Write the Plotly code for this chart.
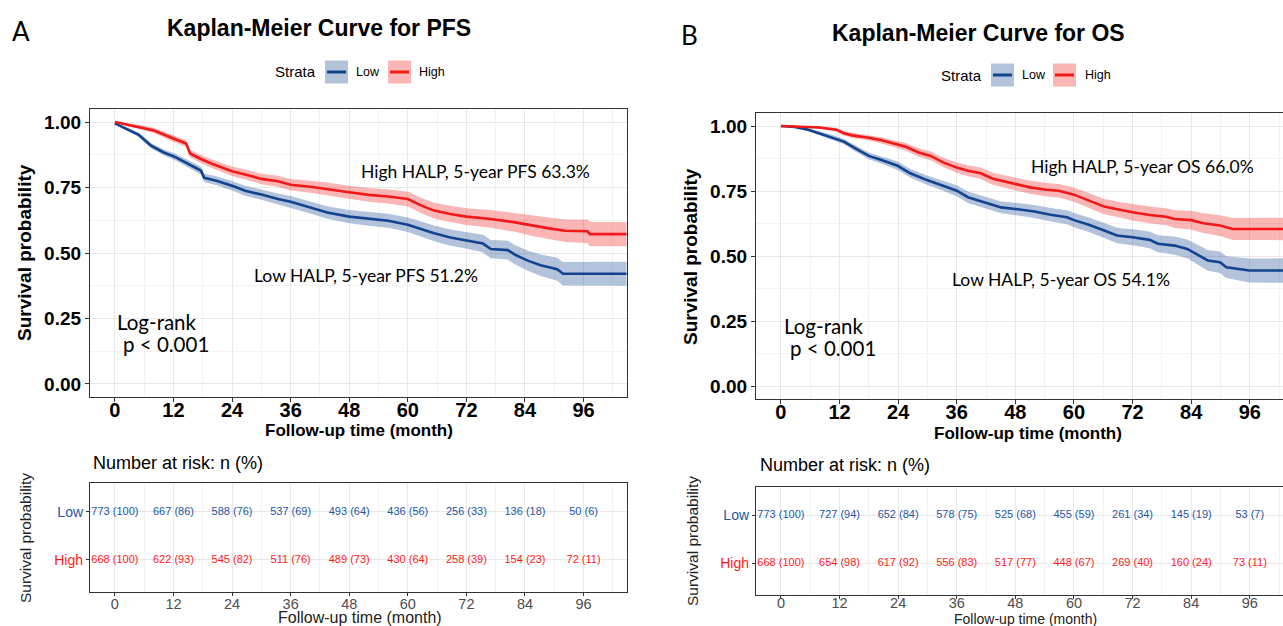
import plotly.graph_objects as go

W, H = 1283, 626

# ---------------- DATA ----------------
# PFS, High HALP
pfs_high_t = [0, 3, 5, 8, 11.6, 14.6, 15.4, 17.5, 20, 24, 26.7, 30, 33.4, 36, 40, 43.5, 48, 52, 56, 60,
              62.8, 65.4, 68.7, 72, 77, 82, 85.5, 88.9, 92.2, 96.8, 97.3, 104.8]
pfs_high_s = [1.000, 0.988, 0.982, 0.968, 0.940, 0.918, 0.880, 0.860, 0.840, 0.812, 0.800, 0.783, 0.774,
              0.761, 0.753, 0.745, 0.732, 0.722, 0.716, 0.706, 0.681, 0.662, 0.649, 0.639, 0.630, 0.617,
              0.604, 0.594, 0.585, 0.583, 0.572, 0.572]
pfs_high_lo = [1.000, 0.982, 0.974, 0.958, 0.928, 0.905, 0.866, 0.845, 0.824, 0.794, 0.781, 0.763, 0.753,
               0.739, 0.730, 0.721, 0.707, 0.696, 0.689, 0.678, 0.652, 0.632, 0.618, 0.607, 0.596, 0.581,
               0.565, 0.553, 0.542, 0.538, 0.526, 0.526]
pfs_high_hi = [1.000, 0.994, 0.990, 0.978, 0.952, 0.931, 0.894, 0.875, 0.856, 0.830, 0.819, 0.803, 0.795,
               0.783, 0.776, 0.769, 0.757, 0.748, 0.743, 0.734, 0.710, 0.692, 0.680, 0.671, 0.664, 0.653,
               0.643, 0.635, 0.628, 0.628, 0.618, 0.618]

# PFS, Low HALP
pfs_low_t = [0, 2.4, 4.9, 7.4, 9.9, 12.4, 15, 17.6, 18.3, 20.8, 24, 26.7, 30, 33.4, 36, 40, 43.5, 48, 52,
             56, 60, 62.8, 65.4, 68.7, 72, 75.4, 77, 80.5, 82, 84.7, 87.2, 90.6, 91.8, 104.8]
pfs_low_s = [0.995, 0.974, 0.951, 0.910, 0.885, 0.866, 0.840, 0.815, 0.787, 0.776, 0.757, 0.738, 0.723,
             0.706, 0.696, 0.674, 0.655, 0.639, 0.630, 0.623, 0.608, 0.591, 0.575, 0.559, 0.549, 0.536,
             0.515, 0.511, 0.493, 0.470, 0.453, 0.438, 0.421, 0.421]
pfs_low_lo = [0.992, 0.968, 0.943, 0.900, 0.874, 0.853, 0.826, 0.800, 0.771, 0.759, 0.739, 0.719, 0.703,
              0.685, 0.674, 0.651, 0.631, 0.614, 0.604, 0.596, 0.580, 0.562, 0.545, 0.528, 0.517, 0.502,
              0.480, 0.475, 0.456, 0.431, 0.412, 0.394, 0.376, 0.375]
pfs_low_hi = [0.998, 0.980, 0.959, 0.920, 0.896, 0.879, 0.854, 0.830, 0.803, 0.793, 0.775, 0.757, 0.743,
              0.727, 0.718, 0.697, 0.679, 0.664, 0.656, 0.650, 0.636, 0.620, 0.605, 0.590, 0.581, 0.570,
              0.550, 0.547, 0.530, 0.509, 0.494, 0.482, 0.466, 0.467]

# OS, High HALP
os_high_t = [0, 4.5, 7.9, 11.3, 12.9, 14.6, 18, 20.6, 23.1, 25.6, 28.2, 30.7, 33.2, 36, 38.3, 40.9, 43.4,
             48, 51, 54.4, 56.9, 60, 62.9, 66.2, 69.6, 72, 75.5, 78.9, 80.6, 84, 86.5, 89.9, 92.5, 102.8]
os_high_s = [1.000, 0.997, 0.994, 0.986, 0.972, 0.964, 0.955, 0.945, 0.932, 0.920, 0.898, 0.885, 0.860,
             0.840, 0.828, 0.818, 0.797, 0.777, 0.764, 0.755, 0.751, 0.736, 0.715, 0.690, 0.677, 0.668,
             0.658, 0.651, 0.642, 0.638, 0.626, 0.617, 0.604, 0.604]
os_high_lo = [1.000, 0.994, 0.989, 0.979, 0.963, 0.954, 0.944, 0.933, 0.919, 0.905, 0.882, 0.868, 0.842,
              0.820, 0.807, 0.796, 0.774, 0.753, 0.739, 0.729, 0.725, 0.709, 0.687, 0.661, 0.647, 0.637,
              0.626, 0.618, 0.608, 0.602, 0.588, 0.577, 0.562, 0.561]
os_high_hi = [1.000, 1.000, 0.999, 0.993, 0.981, 0.974, 0.966, 0.957, 0.945, 0.935, 0.914, 0.902, 0.878,
              0.860, 0.849, 0.840, 0.820, 0.801, 0.789, 0.781, 0.777, 0.763, 0.743, 0.719, 0.707, 0.699,
              0.690, 0.684, 0.676, 0.674, 0.664, 0.657, 0.646, 0.647]

# OS, Low HALP
os_low_t = [0, 2.8, 5.3, 7.9, 10.4, 12.9, 15.5, 18, 20.6, 23.9, 26.5, 29.9, 33.2, 36, 38.3, 41.7, 45.1, 48,
            51.9, 55.2, 58.6, 60, 62.9, 66.2, 68.8, 72, 75.5, 77.2, 80.6, 83.2, 85.7, 87.4, 89.9, 91.2,
            95.9, 102.8]
os_low_s = [1.000, 0.996, 0.987, 0.971, 0.958, 0.940, 0.911, 0.885, 0.869, 0.847, 0.818, 0.792, 0.770,
            0.751, 0.726, 0.706, 0.687, 0.681, 0.671, 0.659, 0.649, 0.638, 0.621, 0.598, 0.579, 0.572,
            0.562, 0.547, 0.540, 0.527, 0.502, 0.483, 0.476, 0.457, 0.444, 0.444]
os_low_lo = [1.000, 0.993, 0.982, 0.964, 0.949, 0.930, 0.899, 0.872, 0.855, 0.831, 0.801, 0.774, 0.751,
             0.730, 0.704, 0.684, 0.664, 0.657, 0.646, 0.633, 0.622, 0.611, 0.593, 0.569, 0.549, 0.541,
             0.530, 0.514, 0.505, 0.491, 0.464, 0.443, 0.435, 0.415, 0.398, 0.397]
os_low_hi = [1.000, 0.999, 0.992, 0.978, 0.967, 0.950, 0.923, 0.898, 0.883, 0.863, 0.835, 0.810, 0.789,
             0.772, 0.748, 0.728, 0.710, 0.705, 0.696, 0.685, 0.676, 0.665, 0.649, 0.627, 0.609, 0.603,
             0.594, 0.580, 0.575, 0.563, 0.540, 0.523, 0.517, 0.499, 0.490, 0.491]

# Number at risk
risk_times = [0, 12, 24, 36, 48, 60, 72, 84, 96]
pfs_low_n = [773, 667, 588, 537, 493, 436, 256, 136, 50]
pfs_low_pct = [100, 86, 76, 69, 64, 56, 33, 18, 6]
pfs_high_n = [668, 622, 545, 511, 489, 430, 258, 154, 72]
pfs_high_pct = [100, 93, 82, 76, 73, 64, 39, 23, 11]
os_low_n = [773, 727, 652, 578, 525, 455, 261, 145, 53]
os_low_pct = [100, 94, 84, 75, 68, 59, 34, 19, 7]
os_high_n = [668, 654, 617, 556, 517, 448, 269, 160, 73]
os_high_pct = [100, 98, 92, 83, 77, 67, 40, 24, 11]

strata = ["Low", "High"]
x_ticks = [0, 12, 24, 36, 48, 60, 72, 84, 96]
y_ticks = [0, 0.25, 0.5, 0.75, 1.0]

# ---------------- STYLE ----------------
BLUE = "#11438f"
RED = "#f01818"
BLUE_FILL = "rgba(17,67,143,0.32)"
RED_FILL = "rgba(240,24,24,0.32)"
BLUE_TXT = "#2456a4"
RED_TXT = "#ff1a1a"
GRID = "#e8e8e8"
MINOR = "#f3f3f3"
AX = "#333333"
SANS = "Liberation Sans, Arial, sans-serif"
HUMAN = "Lato, Open Sans, sans-serif"


def px(x):
    return x / W


def py(y):
    return 1 - y / H


fig = go.Figure()


def add_km(t, lo, hi, fill, xa, ya):
    fig.add_trace(go.Scatter(x=t, y=lo, mode="lines", line=dict(width=0, color=fill),
                             xaxis=xa, yaxis=ya, showlegend=False, hoverinfo="skip"))
    fig.add_trace(go.Scatter(x=t, y=hi, mode="lines", line=dict(width=0, color=fill), fill="tonexty",
                             fillcolor=fill, xaxis=xa, yaxis=ya, showlegend=False, hoverinfo="skip"))


add_km(pfs_low_t, pfs_low_lo, pfs_low_hi, BLUE_FILL, "x", "y")
add_km(pfs_high_t, pfs_high_lo, pfs_high_hi, RED_FILL, "x", "y")
add_km(os_low_t, os_low_lo, os_low_hi, BLUE_FILL, "x2", "y2")
add_km(os_high_t, os_high_lo, os_high_hi, RED_FILL, "x2", "y2")

for t, s, c, xa, ya in [(pfs_low_t, pfs_low_s, BLUE, "x", "y"), (pfs_high_t, pfs_high_s, RED, "x", "y"),
                        (os_low_t, os_low_s, BLUE, "x2", "y2"), (os_high_t, os_high_s, RED, "x2", "y2")]:
    fig.add_trace(go.Scatter(x=t, y=s, mode="lines", line=dict(color=c, width=2.6),
                             xaxis=xa, yaxis=ya, showlegend=False))

row_pos = {"Low": 2, "High": 1}


def add_risk(n, pct, row, color, xa, ya):
    fig.add_trace(go.Scatter(x=risk_times, y=[row_pos[row]] * len(risk_times), mode="text",
                             text=[f"{a} ({b})" for a, b in zip(n, pct)],
                             textfont=dict(family=SANS, size=11, color=color),
                             xaxis=xa, yaxis=ya, showlegend=False))


add_risk(pfs_low_n, pfs_low_pct, "Low", BLUE_TXT, "x3", "y3")
add_risk(pfs_high_n, pfs_high_pct, "High", RED_TXT, "x3", "y3")
add_risk(os_low_n, os_low_pct, "Low", BLUE_TXT, "x4", "y4")
add_risk(os_high_n, os_high_pct, "High", RED_TXT, "x4", "y4")


def main_x(domain, rng, anchor, mirror=True):
    return dict(domain=domain, range=rng, anchor=anchor, tickvals=x_ticks, ticks="outside", ticklen=4,
                tickcolor=AX, tickfont=dict(family=SANS, size=20, color="black", weight="bold"),
                ticklabelstandoff=-9,
                showgrid=True, gridcolor=GRID, gridwidth=1, zeroline=False,
                minor=dict(dtick=6, tick0=0, showgrid=True, gridcolor=MINOR, gridwidth=1),
                showline=True, linecolor=AX, linewidth=1.3, mirror=mirror)


def main_y(domain, anchor, mirror=True):
    return dict(domain=domain, range=[-0.05, 1.05], anchor=anchor, tickvals=y_ticks, tickformat=".2f",
                ticks="outside", ticklen=4, tickcolor=AX,
                tickfont=dict(family=SANS, size=19, color="black", weight="bold"),
                showgrid=True, gridcolor=GRID, gridwidth=1, zeroline=False,
                minor=dict(dtick=0.125, tick0=0, showgrid=True, gridcolor=MINOR, gridwidth=1),
                showline=True, linecolor=AX, linewidth=1.3, mirror=mirror)


def tab_x(domain, rng, anchor, mirror=True, standoff=-5):
    return dict(domain=domain, range=rng, anchor=anchor, tickvals=x_ticks, ticks="outside", ticklen=3,
                tickcolor=AX, tickfont=dict(family=SANS, size=14.5, color="#4d4d4d"),
                ticklabelstandoff=standoff,
                showgrid=True, gridcolor=GRID, zeroline=False,
                minor=dict(dtick=6, tick0=0, showgrid=True, gridcolor=MINOR),
                showline=True, linecolor=AX, linewidth=1.3, mirror=mirror)


def tab_y(domain, anchor, mirror=True):
    return dict(domain=domain, range=[0.333, 2.6], anchor=anchor, tickvals=[row_pos[s] for s in strata],
                ticktext=[f"<span style='color:{BLUE_TXT}'>Low</span>",
                          f"<span style='color:{RED_TXT}'>High</span>"],
                ticks="outside", ticklen=3, tickcolor=AX, tickfont=dict(family=SANS, size=14),
                showgrid=True, gridcolor=GRID, zeroline=False,
                showline=True, linecolor=AX, linewidth=1.3, mirror=mirror)


fig.update_layout(
    width=W, height=H, margin=dict(l=0, r=0, t=0, b=0),
    paper_bgcolor="white", plot_bgcolor="white", showlegend=False,
    xaxis=main_x([px(90), px(627)], [-5.1, 104.9], "y"),
    yaxis=main_y([py(397), py(109)], "x"),
    xaxis2=main_x([px(756), 1.0], [-5.1, 102.8], "y2"),
    yaxis2=main_y([py(399), py(113)], "x2", mirror=False),
    xaxis3=tab_x([px(90), px(627)], [-5.1, 104.9], "y3"),
    yaxis3=tab_y([py(592), py(483)], "x3"),
    xaxis4=tab_x([px(756), 1.0], [-5.1, 102.8], "y4", standoff=-9),
    yaxis4=tab_y([py(595), py(487)], "x4", mirror=False),
)

ann = []


def A(text, x, y, size, family=SANS, color="black", weight="normal", xanchor="center", angle=0):
    ann.append(dict(text=text, x=px(x), y=py(y), xref="paper", yref="paper", showarrow=False,
                    xanchor=xanchor, yanchor="middle", textangle=angle,
                    font=dict(family=family, size=size, color=color, weight=weight)))


# panel letters and titles
A("A", 21, 31, 26, family=HUMAN)
A("B", 690, 35, 26, family=HUMAN)
A("Kaplan-Meier Curve for PFS", 319, 28, 23, weight="bold")
A("Kaplan-Meier Curve for OS", 978, 33, 23, weight="bold")

# axis titles main
A("Survival probability", 25, 253, 19, weight="bold", angle=-90)
A("Survival probability", 690, 256, 19, weight="bold", angle=-90)
A("Follow-up time (month)", 359, 430, 17, weight="bold")
A("Follow-up time (month)", 1028, 433, 17, weight="bold")

# in-plot annotations
A("High HALP, 5-year PFS 63.3%", 476, 171, 17.5, family=HUMAN)
A("Low HALP, 5-year PFS 51.2%", 366, 275, 17.5, family=HUMAN)
A("Log-rank", 115, 322, 20.5, family=HUMAN, xanchor="left")
A("p &lt; 0.001", 121, 344, 20.5, family=HUMAN, xanchor="left")
A("High HALP, 5-year OS 66.0%", 1142, 167, 17.5, family=HUMAN)
A("Low HALP, 5-year OS 54.1%", 1061, 279, 17.5, family=HUMAN)
A("Log-rank", 782, 326, 20.5, family=HUMAN, xanchor="left")
A("p &lt; 0.001", 788, 348, 20.5, family=HUMAN, xanchor="left")

# risk tables
A("Number at risk: n (%)", 91, 463, 18, xanchor="left")
A("Number at risk: n (%)", 758, 465, 18, xanchor="left")
A("Survival probability", 25, 538, 15.5, angle=-90, color="#222")
A("Survival probability", 692, 541, 15.5, angle=-90, color="#222")
A("Follow-up time (month)", 360, 617, 16, color="#222")
A("Follow-up time (month)", 1025, 619, 14, color="#222")

# manual legends
shapes = []
for (sx, ly, lowx, lowtx, highx, hightx) in [(295, 72, 325, 368, 388, 432), (962, 75, 991, 1034, 1053, 1098)]:
    A("Strata", sx, ly, 15)
    for bx, tx, label, fill, col in [(lowx, lowtx, "Low", BLUE_FILL, BLUE), (highx, hightx, "High", RED_FILL, RED)]:
        shapes.append(dict(type="rect", xref="paper", yref="paper", x0=px(bx), x1=px(bx + 23),
                           y0=py(ly + 11.5), y1=py(ly - 11.5), fillcolor=fill, line=dict(width=0), layer="above"))
        shapes.append(dict(type="line", xref="paper", yref="paper", x0=px(bx + 2), x1=px(bx + 21),
                           y0=py(ly), y1=py(ly), line=dict(color=col, width=3), layer="above"))
        A(label, tx, ly, 12.5)

fig.update_layout(annotations=ann, shapes=shapes)
fig.write_html("out.html")
